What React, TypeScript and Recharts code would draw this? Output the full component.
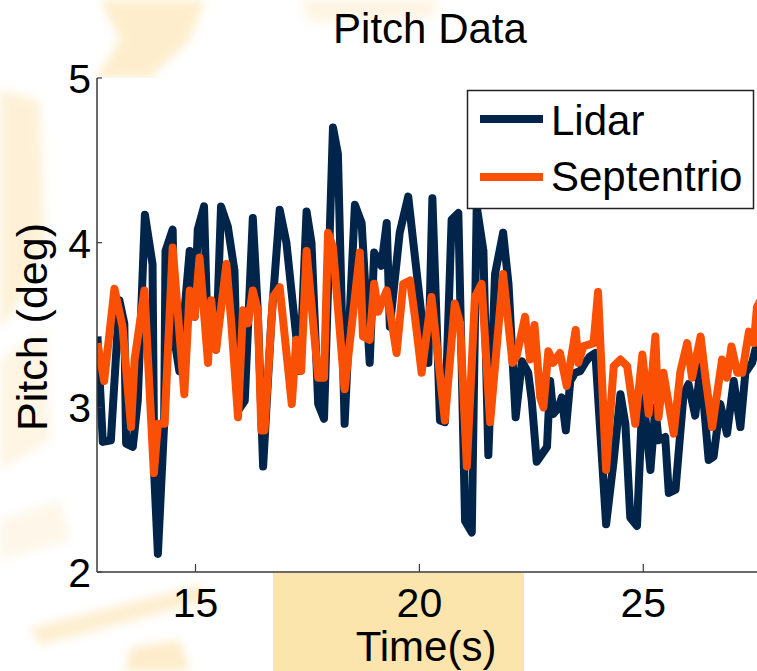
import React from 'react';
import { LineChart, Line, XAxis, YAxis } from 'recharts';

// Lidar pitch samples (time in s, pitch in deg)
const lidarTime = [
  12.81, 12.93, 13.11, 13.3, 13.41, 13.45, 13.6, 13.71, 13.87, 14.04,
  14.08, 14.16, 14.3, 14.33, 14.49, 14.53, 14.64, 14.87, 14.98, 15.05,
  15.19, 15.28, 15.35, 15.46, 15.57, 15.72, 15.87, 15.95, 16.1, 16.28,
  16.39, 16.51, 16.69, 16.88, 17.03, 17.33, 17.48, 17.59, 17.74, 17.87,
  18.07, 18.18, 18.33, 18.56, 18.71, 18.89, 18.99, 19.15, 19.27, 19.34,
  19.56, 19.75, 20.05, 20.2, 20.29, 20.46, 20.57, 20.72, 20.87, 21.02,
  21.17, 21.28, 21.43, 21.54, 21.69, 21.87, 21.99, 22.15, 22.29, 22.43,
  22.51, 22.62, 22.85, 22.92, 22.99, 23.11, 23.18, 23.27, 23.37, 23.48,
  23.59, 23.7, 23.81, 23.93, 24.17, 24.34, 24.49, 24.6, 24.71, 24.86,
  24.99, 25.16, 25.27, 25.34, 25.49, 25.57, 25.72, 25.9, 26.01, 26.16,
  26.28, 26.46, 26.57, 26.72, 26.87, 27.02, 27.17, 27.28, 27.43, 27.54, 27.62,
];
const lidarPitch = [
  3.43, 2.79, 2.8, 3.65, 3.51, 2.78, 2.76, 3.04, 4.17, 3.87,
  2.58, 2.11, 2.9, 3.95, 4.08, 3.41, 3.22, 3.95, 3.55, 4.08,
  4.22, 3.35, 3.59, 3.35, 4.22, 4.1, 3.83, 2.98, 3.04, 4.15,
  3.59, 2.64, 3.51, 4.2, 4.0, 3.22, 4.19, 4.0, 3.02, 2.93,
  4.7, 4.54, 2.9, 4.23, 4.12, 3.27, 3.94, 3.86, 4.12, 3.49,
  4.06, 4.28, 3.55, 3.27, 4.27, 2.92, 2.91, 4.14, 4.18, 2.31,
  2.24, 4.22, 3.95, 2.71, 3.81, 4.06, 3.75, 2.94, 3.28, 3.21,
  3.04, 2.67, 2.76, 3.16, 2.96, 3.0, 3.06, 2.86, 3.16, 3.21,
  3.22, 3.27, 3.31, 3.33, 2.29, 2.68, 3.08, 2.9, 2.33, 2.28,
  3.1, 2.62, 3.0, 2.8, 2.82, 2.48, 2.5, 3.08, 3.14, 2.95,
  3.25, 2.68, 2.7, 3.02, 2.84, 3.16, 2.88, 3.21, 3.27, 3.39, 3.42,
];

// Septentrio pitch samples (time in s, pitch in deg)
const septTime = [
  12.81, 12.96, 13.19, 13.37, 13.56, 13.64, 13.86, 14.07, 14.16, 14.31,
  14.49, 14.75, 14.87, 14.98, 15.09, 15.28, 15.35, 15.46, 15.69, 15.8,
  15.95, 16.06, 16.17, 16.28, 16.39, 16.47, 16.54, 16.73, 16.88, 17.15,
  17.25, 17.36, 17.48, 17.74, 17.87, 17.96, 18.07, 18.33, 18.67, 18.74,
  18.89, 18.99, 19.08, 19.27, 19.49, 19.64, 19.79, 19.9, 20.05, 20.27,
  20.57, 20.79, 20.91, 21.06, 21.24, 21.39, 21.58, 21.87, 22.08, 22.17,
  22.36, 22.47, 22.57, 22.7, 22.77, 22.88, 22.99, 23.14, 23.29, 23.49,
  23.55, 23.66, 23.89, 23.99, 24.17, 24.34, 24.49, 24.64, 24.82, 24.98,
  25.12, 25.27, 25.34, 25.45, 25.68, 25.83, 25.98, 26.09, 26.28, 26.39,
  26.54, 26.76, 26.87, 26.97, 27.1, 27.21, 27.36, 27.47, 27.54, 27.62,
];
const septPitch = [
  3.39, 3.16, 3.72, 3.49, 2.88, 3.29, 3.71, 2.6, 2.9, 2.9,
  3.97, 3.08, 3.71, 3.55, 3.91, 3.27, 3.65, 3.35, 3.87, 3.51,
  2.94, 3.59, 3.51, 3.71, 3.59, 2.86, 2.86, 3.67, 3.73, 3.02,
  3.41, 3.22, 3.95, 3.18, 3.18, 4.06, 3.97, 3.11, 3.94, 3.43,
  3.41, 3.75, 3.58, 3.71, 3.33, 3.75, 3.77, 3.55, 3.21, 3.67,
  2.92, 3.63, 3.51, 2.64, 3.67, 3.75, 2.91, 3.81, 3.27, 3.31,
  3.55, 3.29, 3.5, 3.06, 3.0, 3.34, 3.27, 3.33, 3.13, 3.47,
  3.27, 3.37, 3.39, 3.7, 2.62, 3.25, 3.29, 3.25, 2.9, 3.32,
  2.96, 3.43, 2.94, 3.21, 2.84, 3.22, 3.39, 3.18, 3.43, 3.18,
  2.88, 3.29, 3.18, 3.37, 3.21, 3.21, 3.46, 3.39, 3.61, 3.65,
];

const timeTicks = [15, 20, 25];
const pitchTicks = [2, 3, 4, 5];
const timeDomain = [12.8, 27.54];
const pitchDomain = [2, 5];

const seriesNames = ['Lidar', 'Septentrio'];
const seriesColors = ['#00244a', '#f95006'];

const lidarRows = lidarTime.map((t, i) => ({ t, pitch: lidarPitch[i] }));
const septRows = septTime.map((t, i) => ({ t, pitch: septPitch[i] }));

const FONT = '"Liberation Sans", Arial, Helvetica, sans-serif';
const W = 757;
const H = 671;
const AXIS = '#3a3a3a';

const XTick = (props: any) => {
  const { x, y, payload } = props;
  return (
    <g>
      <line x1={x} x2={x} y1={y} y2={y - 8} stroke={AXIS} strokeWidth={1.2} />
      <text x={x} y={y + 45} textAnchor="middle" fontSize={41} fontFamily={FONT} fill="#000">
        {payload.value}
      </text>
    </g>
  );
};

const YTick = (props: any) => {
  const { x, y, payload } = props;
  return (
    <g>
      <line x1={x} x2={x + 5} y1={y} y2={y} stroke={AXIS} strokeWidth={1.2} />
      <text x={x - 6} y={y + 15} textAnchor="end" fontSize={41} fontFamily={FONT} fill="#000">
        {payload.value}
      </text>
    </g>
  );
};

export default function App() {
  return (
    <div
      style={{
        position: 'absolute',
        left: 0,
        top: 0,
        width: W,
        height: H,
        overflow: 'hidden',
        background: '#ffffff',
      }}
    >
      {/* faint slide backdrop behind the figure */}
      <svg width={W} height={H} style={{ position: 'absolute', left: 0, top: 0 }}>
        <defs>
          <filter id="soft" x="-20%" y="-20%" width="140%" height="140%">
            <feGaussianBlur stdDeviation="5" />
          </filter>
        </defs>
        <g filter="url(#soft)" opacity={0.45}>
          <polygon points="100,0 205,0 190,40 150,78 95,78 120,40" fill="#fbd98f" />
          <polygon points="300,0 440,0 430,18 310,22" fill="#fde7bf" />
          <polygon points="0,90 40,100 45,240 20,300 0,330" fill="#fbe0a6" />
          <polygon points="0,360 45,330 50,440 0,470" fill="#fde9c2" />
          <polygon points="30,628 200,585 210,600 40,645" fill="#fbd995" />
          <polygon points="130,648 180,640 190,671 125,671" fill="#fbd58a" />
          <polygon points="0,520 60,500 70,540 0,560" fill="#fdeccd" />
        </g>
        <rect x={273} y={573} width={251} height={98} fill="#fce5ad" />
        <rect x={97} y={78} width={W - 97} height={494} fill="#ffffff" />
      </svg>

      <LineChart
        width={W}
        height={H}
        margin={{ top: 78, right: 0, bottom: 0, left: 0 }}
        style={{ position: 'absolute', left: 0, top: 0 }}
      >
        <XAxis
          type="number"
          dataKey="t"
          domain={timeDomain}
          ticks={timeTicks}
          allowDataOverflow
          height={99}
          tickSize={0}
          tickMargin={0}
          tick={<XTick />}
          tickLine={false}
          axisLine={{ stroke: AXIS, strokeWidth: 1.5 }}
        />
        <YAxis
          type="number"
          domain={pitchDomain}
          ticks={pitchTicks}
          allowDataOverflow
          width={97}
          tickSize={0}
          tickMargin={0}
          tick={<YTick />}
          tickLine={false}
          axisLine={{ stroke: AXIS, strokeWidth: 1.5 }}
        />
        <Line
          data={lidarRows}
          dataKey="pitch"
          name={seriesNames[0]}
          type="linear"
          stroke={seriesColors[0]}
          strokeWidth={8}
          strokeLinejoin="round"
          dot={false}
          activeDot={false}
          isAnimationActive={false}
        />
        <Line
          data={septRows}
          dataKey="pitch"
          name={seriesNames[1]}
          type="linear"
          stroke={seriesColors[1]}
          strokeWidth={8}
          strokeLinejoin="round"
          dot={false}
          activeDot={false}
          isAnimationActive={false}
        />
      </LineChart>

      {/* title, axis labels and legend */}
      <svg width={W} height={H} style={{ position: 'absolute', left: 0, top: 0, pointerEvents: 'none' }}>
        <text x={430} y={43} textAnchor="middle" fontSize={42} fontFamily={FONT} fill="#000">
          Pitch Data
        </text>
        <text x={426} y={661} textAnchor="middle" fontSize={42} fontFamily={FONT} fill="#000">
          Time(s)
        </text>
        <text
          transform="translate(47,327) rotate(-90)"
          textAnchor="middle"
          fontSize={43}
          fontFamily={FONT}
          fill="#000"
        >
          Pitch (deg)
        </text>
        <g>
          <rect x={467.5} y={90.5} width={286} height={118} fill="#ffffff" stroke="#222" strokeWidth={1.5} />
          {seriesNames.map((name, i) => (
            <g key={name}>
              <line
                x1={480}
                x2={543}
                y1={119 + i * 58}
                y2={119 + i * 58}
                stroke={seriesColors[i]}
                strokeWidth={8}
              />
              <text x={551} y={135 + i * 56} fontSize={42} fontFamily={FONT} fill="#000">
                {name}
              </text>
            </g>
          ))}
        </g>
      </svg>
    </div>
  );
}
